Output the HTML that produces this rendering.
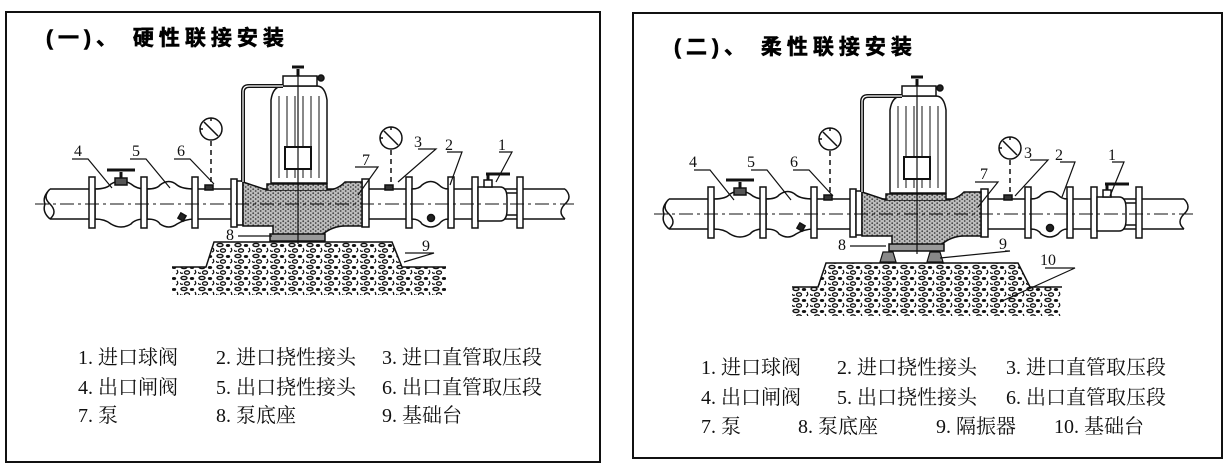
<!DOCTYPE html>
<html><head><meta charset="utf-8"><style>
html,body{margin:0;padding:0;background:#fff;width:1229px;height:472px;overflow:hidden}
svg{display:block}
.t{font-family:"Liberation Serif","Noto Serif CJK SC","Noto Sans CJK SC",serif;font-size:20px;fill:#111}
.h{font-family:"Liberation Sans","Noto Sans CJK SC",sans-serif;font-size:21px;font-weight:bold;fill:#000;letter-spacing:5px;stroke:#000;stroke-width:0.6}
.n{font-family:"Liberation Serif",serif;font-size:16px;fill:#111}
</style></head><body>
<svg width="1229" height="472" viewBox="0 0 1229 472" xmlns="http://www.w3.org/2000/svg">
<defs>
<pattern id="st" width="5" height="4" patternUnits="userSpaceOnUse">
<rect width="5" height="4" fill="#bdbdbd"/><circle cx="1.2" cy="1.2" r="0.9" fill="#444"/><circle cx="3.7" cy="3" r="0.9" fill="#444"/>
</pattern>
<pattern id="gr" width="18" height="11" patternUnits="userSpaceOnUse">
<ellipse cx="4" cy="3" rx="3" ry="1.6" fill="none" stroke="#111" stroke-width="1.4"/>
<ellipse cx="12" cy="3.5" rx="2.2" ry="1.5" fill="#111"/>
<path d="M15 6 q2 3 -1 4" fill="none" stroke="#111" stroke-width="1.3"/>
<ellipse cx="7" cy="8.5" rx="2.5" ry="1.7" fill="none" stroke="#111" stroke-width="1.3"/>
<path d="M0 8 q1 2 3 1" fill="none" stroke="#111" stroke-width="1.2"/>
</pattern>
<g id="asm" stroke="#111" stroke-width="1.5" fill="#fff">
<path d="M-247,-15 H268 M-247,15 H268" fill="none"/>
<path d="M-247,-15 q-8,8 0,15 q8,8 0,15 M-247,-15 q-8,8 -5,15 q-3,8 5,15" fill="none"/>
<path d="M268,-15 q8,8 0,15 q-8,8 0,15" fill="none"/>
<path d="M-202,-15 Q-190,-15 -186,-20 Q-176,-26 -166,-20 Q-160,-15 -152,-15 V15 Q-162,15 -166,20 Q-176,26 -186,20 Q-192,15 -202,15 Z"/>
<rect x="-182" y="-26" width="12" height="7" fill="#555"/>
<path d="M-176,-26 V-32 M-190,-34 H-162" stroke-width="3"/>
<path d="M-150,-15 Q-140,-15 -137,-19 Q-128,-26 -120,-19 Q-115,-15 -102,-15 V15 Q-112,15 -120,20 Q-128,26 -137,20 Q-140,15 -150,15 Z"/>
<rect x="-118" y="10" width="6" height="6" fill="#222" transform="rotate(30 -115 13)"/>
<g fill="#fff">
<rect x="-208" y="-27" width="6" height="51"/><rect x="-156" y="-27" width="6" height="51"/>
<rect x="-105" y="-27" width="6" height="51"/><rect x="-66" y="-25" width="6" height="48"/>
<rect x="-60" y="-23" width="6" height="44"/>
<rect x="65" y="-25" width="7" height="48"/><rect x="109" y="-27" width="6" height="51"/>
<rect x="151" y="-27" width="6" height="51"/><rect x="175" y="-27" width="6" height="51"/>
<rect x="220" y="-27" width="6" height="51"/>
</g>
<rect x="-92" y="-19" width="8" height="5" fill="#333"/>
<rect x="88" y="-19" width="8" height="5" fill="#333"/>
<circle cx="-86" cy="-75" r="11"/><path d="M-93,-82 L-79,-68 M-86,-86 V-83 M-97,-75 H-94" fill="none"/>
<circle cx="94" cy="-66" r="11"/><path d="M87,-73 L101,-59 M94,-77 V-74 M83,-66 H86" fill="none"/>
<path d="M-86,-63 V-20 M94,-54 V-20" stroke-dasharray="5,4" fill="none"/>
<path d="M115,-15 Q122,-15 125,-19 Q134,-26 142,-19 Q146,-15 151,-15 V15 Q146,15 142,20 Q134,26 125,20 Q122,15 115,15 Z"/>
<circle cx="134" cy="14" r="3.5" fill="#222"/>
<path d="M181,-17 H203 Q210,-17 210,-6 V6 Q210,17 203,17 H181 Z"/>
<path d="M210,-11 H220 M210,11 H220" fill="none"/>
<rect x="187" y="-24" width="8" height="7" fill="#fff"/>
<path d="M191,-24 V-30 M189,-30 H213" stroke-width="3" fill="none"/>
<path d="M-54,-22 L-30,-14 H30 Q40,-14 48,-22 H65 V22 H48 Q36,22 26,30 V36 H-24 V22 H-30 L-54,22 Z" fill="url(#st)"/>
<path d="M-30,-14 V-20 H30 V-14" fill="url(#st)"/>
<path d="M-27,30 H28 V37 H-27 Z" fill="#999"/>
<path d="M-26,-21 V-104 Q-24,-118 -14,-118 H20 Q28,-118 30,-104 V-21 Z" fill="#fff"/>
<path d="M-18,-108 V-26 M-10,-108 V-26 M-2,-108 V-26 M6,-108 V-26 M14,-108 V-26 M22,-108 V-26" fill="none" stroke-width="1"/>
<rect x="-14" y="-128" width="34" height="10"/>
<path d="M1,-128 V-135 M-5,-137 H7" stroke-width="3" fill="none"/>
<circle cx="24" cy="-126" r="3" fill="#222"/>
<rect x="-12" y="-57" width="26" height="22" fill="#fff" stroke-width="2"/>
<path d="M-14,-118 H-48 Q-54,-118 -54,-112 V-22" fill="none" stroke-width="4"/>
<path d="M-14,-118 H-48 Q-54,-118 -54,-112 V-22" fill="none" stroke="#fff" stroke-width="1.2"/>
<path d="M1,-135 V40" fill="none" stroke-width="1.2"/>
<path d="M-262,0 H280" stroke-dasharray="14,4,3,4" fill="none" stroke-width="1.1"/>
</g>
</defs>
<rect x="6" y="12" width="594" height="450" fill="none" stroke="#111" stroke-width="2"/>
<text class="h" x="46" y="45">(一)、 硬性联接安装</text>
<path d="M172,267 H206 L214,242 H392 L402,267 H446 V295 H172 Z" fill="url(#gr)" stroke="none"/>
<path d="M172,267 H206 L214,242 H392 L402,267 H446" fill="none" stroke="#111" stroke-width="1.5"/>
<use href="#asm" transform="translate(297,204)"/>
<g fill="none" stroke="#111" stroke-width="1.2">
<path d="M72,159 H88 L112,188 M130,159 H146 L170,188 M174,159 H190 L214,184 M355,167 H378 L358,195 M418,149 H436 L398,182 M447,152 H462 L450,185 M499,152 H512 L496,182 M238,236 H272 M405,253 H434 L404,262"/>
</g>
<g class="n"><text x="74" y="156">4</text><text x="132" y="156">5</text><text x="177" y="156">6</text><text x="362" y="165">7</text><text x="414" y="147">3</text><text x="445" y="150">2</text><text x="498" y="150">1</text><text x="226" y="240">8</text><text x="422" y="251">9</text></g>
<g class="t">
<text x="78" y="364">1. 进口球阀</text><text x="216" y="364">2. 进口挠性接头</text><text x="382" y="364">3. 进口直管取压段</text>
<text x="78" y="394">4. 出口闸阀</text><text x="216" y="394">5. 出口挠性接头</text><text x="382" y="394">6. 出口直管取压段</text>
<text x="78" y="422">7. 泵</text><text x="216" y="422">8. 泵底座</text><text x="382" y="422">9. 基础台</text>
</g>
<rect x="633" y="13" width="589" height="445" fill="none" stroke="#111" stroke-width="2"/>
<text class="h" x="674" y="54">(二)、 柔性联接安装</text>
<path d="M792,287 H818 L826,263 H1018 L1030,287 H1062 V316 H792 Z" fill="url(#gr)" stroke="none"/>
<path d="M792,287 H818 L826,263 H1018 L1030,287 H1062" fill="none" stroke="#111" stroke-width="1.5"/>
<use href="#asm" transform="translate(916,214)"/>
<g stroke="#111" stroke-width="1.2" fill="#fff">
<path d="M883,252 h10 l3,10 h-16 z M930,252 h10 l3,10 h-16 z" fill="#888"/>
<path d="M694,170 H710 L734,200 M751,170 H767 L791,200 M793,170 H809 L833,196 M975,182 H998 L978,207 M1030,160 H1048 L1015,196 M1060,162 H1075 L1062,197 M1112,162 H1124 L1110,196 M850,246 H886 M1005,251 H1010 L940,258 M1045,268 H1075 L1000,302" fill="none"/>
</g>
<g class="n"><text x="689" y="167">4</text><text x="747" y="167">5</text><text x="790" y="167">6</text><text x="980" y="179">7</text><text x="1024" y="158">3</text><text x="1055" y="160">2</text><text x="1108" y="160">1</text><text x="838" y="250">8</text><text x="999" y="249">9</text><text x="1040" y="265">10</text></g>
<g class="t">
<text x="701" y="374">1. 进口球阀</text><text x="837" y="374">2. 进口挠性接头</text><text x="1006" y="374">3. 进口直管取压段</text>
<text x="701" y="404">4. 出口闸阀</text><text x="837" y="404">5. 出口挠性接头</text><text x="1006" y="404">6. 出口直管取压段</text>
<text x="701" y="433">7. 泵</text><text x="798" y="433">8. 泵底座</text><text x="936" y="433">9. 隔振器</text><text x="1054" y="433">10. 基础台</text>
</g>
</svg>
</body></html>
